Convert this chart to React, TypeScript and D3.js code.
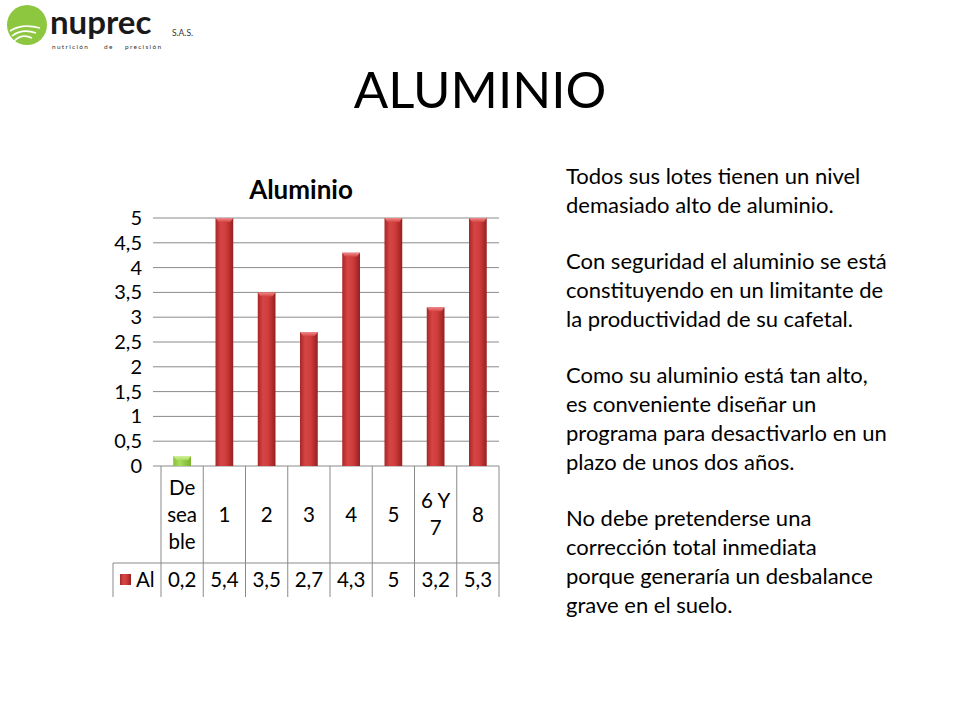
import React from 'react';
import * as d3 from 'd3';

// chart data
const categories = ['De\nsea\nble', '1', '2', '3', '4', '5', '6 Y\n7', '8'];
const aluminio = [0.2, 5.4, 3.5, 2.7, 4.3, 5, 3.2, 5.3];
const yTicks = [0, 0.5, 1, 1.5, 2, 2.5, 3, 3.5, 4, 4.5, 5];
const seriesName = 'Al';

const paragraphs = [
  ['Todos sus lotes tienen un nivel', 'demasiado alto de aluminio.'],
  ['Con seguridad el aluminio se está', 'constituyendo en un limitante de', 'la productividad de su cafetal.'],
  ['Como su aluminio está tan alto,', 'es conveniente diseñar un', 'programa para desactivarlo en un', 'plazo de unos dos años.'],
  ['No debe pretenderse una', 'corrección total inmediata', 'porque generaría un desbalance', 'grave en el suelo.'],
];

const FONT = 'Lato, "Open Sans", sans-serif';
const comma = (v: number) => String(v).replace('.', ',');

const App: React.FC = () => {
  const width = 960;
  const height = 720;
  const plot = { left: 161, right: 499, top: 218, bottom: 466 };

  const xCol = d3.scaleBand<string>()
    .domain(categories)
    .range([plot.left, plot.right])
    .padding(0);
  const xBar = d3.scaleBand<string>()
    .domain(categories)
    .range([plot.left, plot.right])
    .paddingInner(0.58)
    .paddingOuter(0.29);
  const y = d3.scaleLinear().domain([0, 5]).range([plot.bottom, plot.top]).clamp(true);

  const headerBottom = 563;
  const tableBottom = 597;
  const lineColor = '#8a8a8a';

  // paragraph layout
  const textX = 566;
  let ty = 184;
  const textLines: { t: string; y: number }[] = [];
  paragraphs.forEach((p) => {
    p.forEach((l) => {
      textLines.push({ t: l, y: ty });
      ty += 29;
    });
    ty += 27;
  });

  return (
    <svg width={width} height={height} style={{ position: 'absolute', left: 0, top: 0, background: '#fff' }}>
      <defs>
        <linearGradient id="redBar" x1="0" x2="1" y1="0" y2="0">
          <stop offset="0" stopColor="#a82626" />
          <stop offset="0.3" stopColor="#d64545" />
          <stop offset="0.6" stopColor="#cf3c3c" />
          <stop offset="1" stopColor="#962020" />
        </linearGradient>
        <linearGradient id="greenBar" x1="0" x2="1" y1="0" y2="0">
          <stop offset="0" stopColor="#86bf3a" />
          <stop offset="0.35" stopColor="#a8dc5c" />
          <stop offset="1" stopColor="#7cb230" />
        </linearGradient>
        <linearGradient id="redCap" x1="0" x2="0" y1="0" y2="1">
          <stop offset="0" stopColor="#f08a8a" />
          <stop offset="1" stopColor="#d64545" />
        </linearGradient>
        <linearGradient id="greenCap" x1="0" x2="0" y1="0" y2="1">
          <stop offset="0" stopColor="#d4f09a" />
          <stop offset="1" stopColor="#a8dc5c" />
        </linearGradient>
      </defs>

      {/* logo */}
      <g>
        <circle cx={27} cy={25} r={20} fill="#8dc63f" />
        {[0, 1, 2].map((i) => (
          <path
            key={i}
            d={`M ${10 + i * 2} ${31 + i * 5} Q ${22} ${23 + i * 5} ${40 - i * 4} ${28 + i * 5}`}
            fill="none"
            stroke="#fff"
            strokeWidth={1.6}
          />
        ))}
        <text x={50} y={34} fontFamily={FONT} fontSize={33} fontWeight={700} fill="#1a1a1a">nuprec</text>
        <text x={172} y={36} fontFamily={FONT} fontSize={8.5} fill="#333">S.A.S.</text>
        <text x={52} y={48.5} fontFamily={FONT} fontSize={6.5} fill="#333" letterSpacing={1.3}>nutrición</text>
        <text x={104} y={48.5} fontFamily={FONT} fontSize={6.5} fill="#333" letterSpacing={1.3}>de</text>
        <text x={125} y={48.5} fontFamily={FONT} fontSize={6.5} fill="#333" letterSpacing={1.3}>precisión</text>
      </g>

      {/* slide title */}
      <text x={480} y={108} textAnchor="middle" fontFamily={FONT} fontSize={51} fill="#000">ALUMINIO</text>

      {/* chart title */}
      <text x={301} y={199} textAnchor="middle" fontFamily={FONT} fontSize={26} fontWeight={700} fill="#000">Aluminio</text>

      {/* gridlines and y labels */}
      {yTicks.map((t) => (
        <g key={t}>
          <line x1={plot.left - 8} x2={plot.right} y1={y(t)} y2={y(t)} stroke={lineColor} strokeWidth={1} />
          <text x={142} y={y(t) + 7} textAnchor="end" fontFamily={FONT} fontSize={20} fill="#000">{comma(t)}</text>
        </g>
      ))}

      {/* bars */}
      {categories.map((c, i) => {
        const v = aluminio[i];
        const x0 = xBar(c) || 0;
        const bw = xBar.bandwidth();
        const top = y(v);
        const h = plot.bottom - top;
        const green = i === 0;
        return (
          <g key={c}>
            <rect x={x0} y={top} width={bw} height={h} fill={green ? 'url(#greenBar)' : 'url(#redBar)'} />
            <path
              d={`M ${x0} ${top} L ${x0 + bw} ${top} L ${x0 + bw - 3} ${top + 4} L ${x0 + 3} ${top + 4} Z`}
              fill={green ? 'url(#greenCap)' : 'url(#redCap)'}
            />
          </g>
        );
      })}

      {/* data table */}
      <g fontFamily={FONT} fontSize={20.5} fill="#000">
        {categories.map((c) => {
          const x0 = xCol(c) || 0;
          return <line key={'v' + c} x1={x0} x2={x0} y1={plot.bottom} y2={tableBottom} stroke={lineColor} />;
        })}
        <line x1={plot.right} x2={plot.right} y1={plot.bottom} y2={tableBottom} stroke={lineColor} />
        <line x1={113} x2={plot.right} y1={headerBottom} y2={headerBottom} stroke={lineColor} />
        <line x1={113} x2={113} y1={headerBottom} y2={tableBottom} stroke={lineColor} />

        {categories.map((c) => {
          const lines = c.split('\n');
          const cx = (xCol(c) || 0) + xCol.bandwidth() / 2;
          const mid = (plot.bottom + headerBottom) / 2;
          const lh = 27;
          const start = mid - ((lines.length - 1) * lh) / 2;
          return (
            <text key={'h' + c} textAnchor="middle" x={cx}>
              {lines.map((l, k) => (
                <tspan key={k} x={cx} y={start + k * lh + 7}>{l}</tspan>
              ))}
            </text>
          );
        })}

        {categories.map((c, i) => {
          const cx = (xCol(c) || 0) + xCol.bandwidth() / 2;
          return (
            <text key={'d' + c} x={cx} y={587} textAnchor="middle">{comma(aluminio[i])}</text>
          );
        })}

        <rect x={120} y={574} width={11} height={11} fill="url(#redBar)" />
        <text x={136} y={587}>{seriesName}</text>
      </g>

      {/* side text */}
      <g fontFamily={FONT} fontSize={22} fill="#000">
        {textLines.map((l, i) => (
          <text key={i} x={textX} y={l.y}>{l.t}</text>
        ))}
      </g>
    </svg>
  );
};

export default App;
